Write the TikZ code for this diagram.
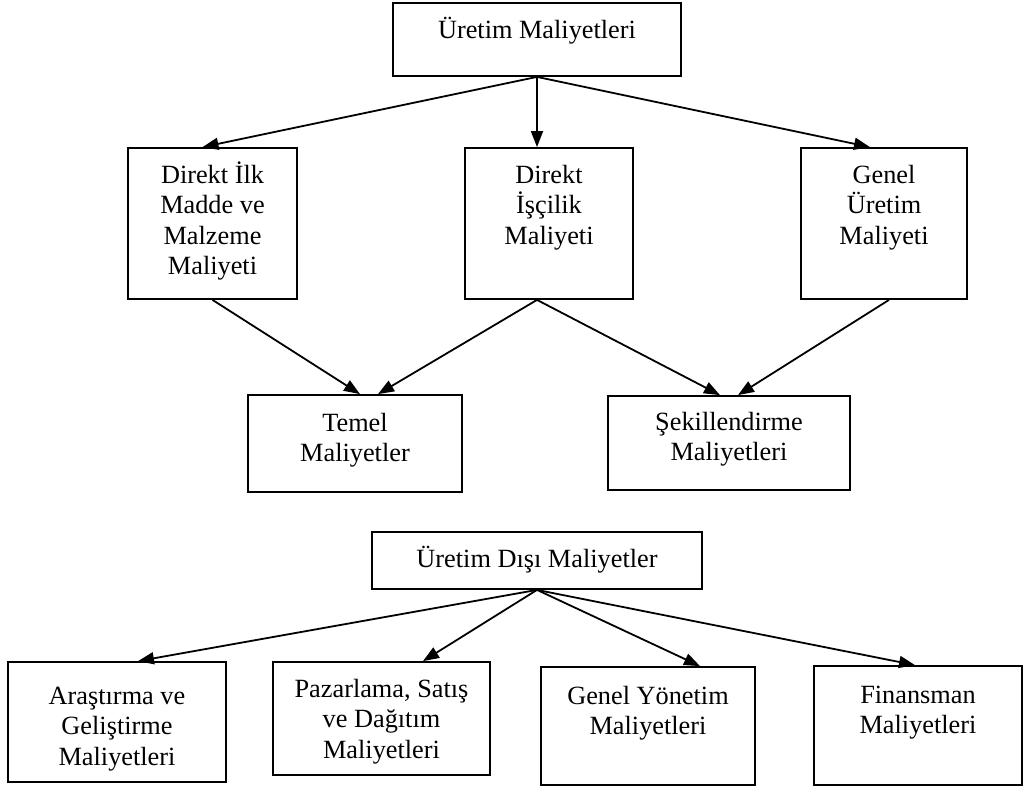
\documentclass[tikz,border=0pt]{standalone}
\usepackage{fontspec}
\setmainfont{Liberation Serif}
\usetikzlibrary{arrows.meta,calc}
% box contents: width, height, first baseline below the top edge, text
\newcommand\boxtext[4]{\parbox[t][#2pt][t]{#1pt}{\centering\rule{0pt}{#3pt}#4}}
\begin{document}
\begin{tikzpicture}[x=1pt,y=-1pt,
  cbox/.style={draw, rectangle, line width=1.8pt, inner sep=0pt},
  link/.style={line width=1.8pt, -{Triangle[length=16pt,width=12pt]}},
  every node/.style={font=\fontsize{26.3pt}{30.5pt}\selectfont}]
\useasboundingbox (0,0) rectangle (1027,787);

% production costs
\node[cbox] (top) at (537,39.5) {\boxtext{288}{73}{35}{Üretim Maliyetleri}};
\node[cbox] (dil) at (212.5,223.5) {\boxtext{169}{151}{35}{Direkt İlk\\Madde ve\\Malzeme\\Maliyeti}};
\node[cbox] (dis) at (549,223.5) {\boxtext{168}{151}{35}{Direkt\\İşçilik\\Maliyeti}};
\node[cbox] (gen) at (884,223.5) {\boxtext{166}{151}{35}{Genel\\Üretim\\Maliyeti}};
\node[cbox] (tem) at (355,443.5) {\boxtext{214}{97}{36}{Temel\\Maliyetler}};
\node[cbox] (sek) at (729,443) {\boxtext{242}{94}{34}{Şekillendirme\\Maliyetleri}};

\draw[link] (top.south) -- ([xshift=-10pt]dil.north);
\draw[link] (top.south) -- (top.south |- dis.north);
\draw[link] (top.south) -- ([xshift=-14pt]gen.north);
\draw[link] (dil.south) -- ([xshift=5pt]tem.north);
\draw[link] ([xshift=-12pt]dis.south) -- ([xshift=23pt]tem.north);
\draw[link] ([xshift=-12pt]dis.south) -- ([xshift=-9pt]sek.north);
\draw[link] ([xshift=5pt]gen.south) -- ([xshift=9pt]sek.north);

% non-production costs
\node[cbox] (ndm) at (537,560.5) {\boxtext{330}{57}{35}{Üretim Dışı Maliyetler}};
\node[cbox] (ar) at (117,722) {\boxtext{218}{120}{42}{Araştırma ve\\Geliştirme\\Maliyetleri}};
\node[cbox] (pz) at (381.5,718.5) {\boxtext{217}{113}{35}{Pazarlama, Satış\\ve Dağıtım\\Maliyetleri}};
\node[cbox] (gy) at (648,726) {\boxtext{214}{118}{37}{Genel Yönetim\\Maliyetleri}};
\node[cbox] (fn) at (918,725.5) {\boxtext{208}{119}{37}{Finansman\\Maliyetleri}};

\draw[link] (ndm.south) -- ([xshift=21pt]ar.north);
\draw[link] (ndm.south) -- ([xshift=41.5pt]pz.north);
\draw[link] (ndm.south) -- ([xshift=52pt]gy.north);
\draw[link] (ndm.south) -- ([xshift=-3pt]fn.north);
\end{tikzpicture}
\end{document}
